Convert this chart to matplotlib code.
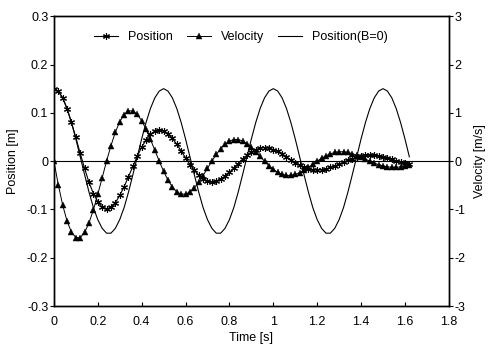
import matplotlib
matplotlib.use("Agg")
import matplotlib.pyplot as plt
from matplotlib.ticker import FormatStrFormatter, MultipleLocator

plt.rcParams["font.family"] = ["Liberation Sans", "DejaVu Sans"]
plt.rcParams["font.size"] = 9

# sample times, 0.02 s steps from 0 to 1.62 s
time = [round(0.02 * i, 2) for i in range(82)]

# damped position [m]
position = [
    0.150, 0.145, 0.131, 0.108, 0.080, 0.049, 0.016, -0.015, -0.044, -0.067,
    -0.084, -0.095, -0.099, -0.095, -0.086, -0.071, -0.053, -0.032, -0.011, 0.010,
    0.029, 0.044, 0.056, 0.062, 0.065, 0.063, 0.056, 0.047, 0.035, 0.021,
    0.007, -0.007, -0.019, -0.029, -0.036, -0.041, -0.043, -0.041, -0.037, -0.031,
    -0.023, -0.014, -0.005, 0.004, 0.012, 0.019, 0.024, 0.027, 0.028, 0.027,
    0.024, 0.020, 0.015, 0.009, 0.003, -0.003, -0.008, -0.012, -0.016, -0.018,
    -0.018, -0.018, -0.016, -0.013, -0.010, -0.006, -0.002, 0.002, 0.005, 0.008,
    0.010, 0.012, 0.012, 0.012, 0.011, 0.009, 0.006, 0.004, 0.001, -0.001,
    -0.003, -0.005,
]

# velocity [m/s]
velocity = [
    0.000, -0.487, -0.909, -1.242, -1.468, -1.581, -1.581, -1.474, -1.277, -1.006,
    -0.687, -0.343, 0.000, 0.320, 0.598, 0.816, 0.965, 1.039, 1.039, 0.969,
    0.838, 0.661, 0.452, 0.226, 0.000, -0.210, -0.393, -0.536, -0.634, -0.683,
    -0.682, -0.637, -0.551, -0.434, -0.297, -0.148, 0.000, 0.138, 0.258, 0.352,
    0.417, 0.448, 0.448, 0.418, 0.362, 0.286, 0.195, 0.097, 0.000, -0.091,
    -0.170, -0.231, -0.274, -0.295, -0.295, -0.275, -0.238, -0.187, -0.128, -0.064,
    0.000, 0.060, 0.112, 0.152, 0.180, 0.193, 0.194, 0.181, 0.156, 0.123,
    0.084, 0.042, 0.000, -0.039, -0.073, -0.100, -0.118, -0.127, -0.127, -0.119,
    -0.103, -0.081,
]

# undamped position, B = 0 [m]
position_free = [
    0.150, 0.145, 0.131, 0.109, 0.080, 0.046, 0.009, -0.028, -0.064, -0.096,
    -0.121, -0.139, -0.149, -0.149, -0.139, -0.121, -0.096, -0.064, -0.028, 0.009,
    0.046, 0.080, 0.109, 0.131, 0.145, 0.150, 0.145, 0.131, 0.109, 0.080,
    0.046, 0.009, -0.028, -0.064, -0.096, -0.121, -0.139, -0.149, -0.149, -0.139,
    -0.121, -0.096, -0.064, -0.028, 0.009, 0.046, 0.080, 0.109, 0.131, 0.145,
    0.150, 0.145, 0.131, 0.109, 0.080, 0.046, 0.009, -0.028, -0.064, -0.096,
    -0.121, -0.139, -0.149, -0.149, -0.139, -0.121, -0.096, -0.064, -0.028, 0.009,
    0.046, 0.080, 0.109, 0.131, 0.145, 0.150, 0.145, 0.131, 0.109, 0.080,
    0.046, 0.009,
]

fig = plt.figure(figsize=(4.9, 3.44), dpi=100)
ax = fig.add_axes([0.110, 0.110, 0.806, 0.843])
ax2 = ax.twinx()

ax.axhline(0, color="black", linewidth=0.8, zorder=1)

asterisk = (6, 2, 0)
(h_pos,) = ax.plot(time, position, color="black", linewidth=0.8,
                   marker=asterisk, markersize=5, markeredgewidth=0.8,
                   label="Position")
(h_free,) = ax.plot(time, position_free, color="black", linewidth=0.8,
                    label="Position(B=0)")
(h_vel,) = ax2.plot(time, velocity, color="black", linewidth=0.7,
                    marker="^", markersize=4.2, markeredgewidth=0.3,
                    label="Velocity")

ax.set_xlim(0, 1.8)
ax.set_ylim(-0.3, 0.3)
ax2.set_ylim(-3, 3)

ax.xaxis.set_major_locator(MultipleLocator(0.2))
ax.yaxis.set_major_locator(MultipleLocator(0.1))
ax2.yaxis.set_major_locator(MultipleLocator(1))
ax.xaxis.set_major_formatter(FormatStrFormatter("%g"))
ax.yaxis.set_major_formatter(FormatStrFormatter("%g"))
ax2.yaxis.set_major_formatter(FormatStrFormatter("%g"))

ax.tick_params(axis="x", direction="in", length=3, width=0.8, pad=7)
ax.tick_params(axis="y", direction="out", length=3, width=0.8, pad=1)
ax2.tick_params(axis="y", direction="out", length=3, width=0.8, pad=1)

for a in (ax, ax2):
    for s in a.spines.values():
        s.set_linewidth(1.0)

ax.set_xlabel("Time [s]", labelpad=3)
ax.set_ylabel("Position [m]", labelpad=6)
ax2.set_ylabel("Velocity [m/s]", labelpad=6)

ax.legend(handles=[h_pos, h_vel, h_free], ncol=3, frameon=False,
          loc="center", bbox_to_anchor=(0.473, 0.928), numpoints=1,
          handlelength=1.9, handletextpad=0.8, columnspacing=1.15,
          fontsize=9)

fig.savefig("out.png", dpi=100)
